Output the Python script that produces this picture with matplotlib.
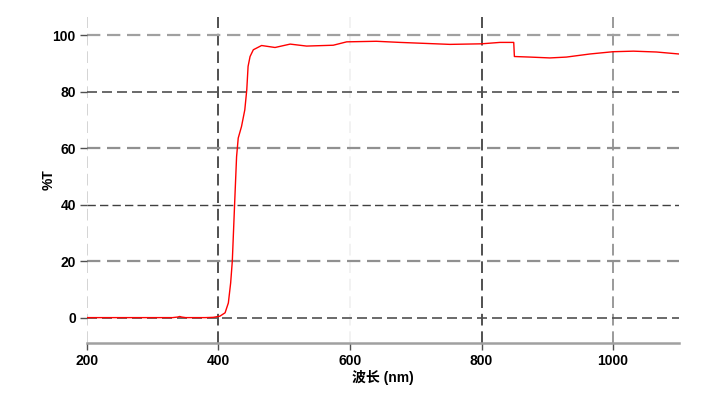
import numpy as np
import matplotlib.pyplot as plt

# transmission spectrum (nm, %T)
wavelength = [200, 250, 300, 330, 338, 341, 344, 350, 380, 392, 402, 410, 415, 418.5, 421,
              425, 427.5, 430, 435, 440, 443, 445, 448, 453, 465.5, 486, 509, 534,
              574.5, 595, 640, 676, 752, 800, 828, 849, 850, 874, 904, 929, 965,
              1000, 1031, 1066, 1100]
transmission = [0.0, 0.0, 0.0, 0.0, 0.2, 0.4, 0.2, 0.0, 0.0, 0.1, 0.5, 1.7, 5.2, 12.3, 20.0,
                43.0, 57.0, 63.6, 67.7, 73.6, 80.7, 89.0, 92.5, 94.9, 96.4, 95.7, 96.9, 96.2,
                96.5, 97.7, 97.9, 97.5, 96.8, 97.0, 97.5, 97.5, 92.5, 92.3, 92.0, 92.3, 93.4,
                94.2, 94.4, 94.1, 93.4]

xticks = [200, 400, 600, 800, 1000]
xgrid_colors = ["#d4d4d4", "#505050", "#f2f2f2", "#505050", "#9a9a9a"]
yticks = [0, 20, 40, 60, 80, 100]
ygrid_colors = ["#505050", "#909090", "#404040", "#909090", "#505050", "#a0a0a0"]
ygrid_widths = [1.2, 1.6, 1.0, 1.6, 1.2, 1.6]

fig = plt.figure(figsize=(7.13, 4.01), dpi=100)
ax = fig.add_axes([0.122, 0.1446, 0.830, 0.813])

for x, c in zip(xticks, xgrid_colors):
    ax.axvline(x, color=c, lw=1.4, dashes=(6, 3), zorder=1)
for y, c, w in zip(yticks, ygrid_colors, ygrid_widths):
    ax.axhline(y, color=c, lw=w, dashes=(6, 3), zorder=1)

ax.plot(wavelength, transmission, color="red", lw=1.0, zorder=3)

ax.set_xlim(200, 1100)
ax.set_ylim(-9, 106.5)
ax.set_xticks(xticks)
ax.set_yticks(yticks)

for s in ["top", "right", "left"]:
    ax.spines[s].set_visible(False)
ax.spines["bottom"].set_color("#a0a0a0")
ax.spines["bottom"].set_linewidth(1.8)

ax.tick_params(axis="both", length=5, width=1, color="#505050", pad=3)
for lab in ax.get_xticklabels() + ax.get_yticklabels():
    lab.set_fontfamily(["Liberation Sans", "DejaVu Sans"])
    lab.set_fontweight("bold")
    lab.set_fontsize(10)

ax.set_ylabel("%T", family=["Liberation Sans", "DejaVu Sans"], fontweight="bold",
              fontsize=10, labelpad=-2)
ax.set_xlabel("波长 (nm)", family=["Liberation Sans", "Noto Sans CJK SC"],
              fontweight="bold", fontsize=10, labelpad=1)

fig.savefig("out.png", dpi=100)
